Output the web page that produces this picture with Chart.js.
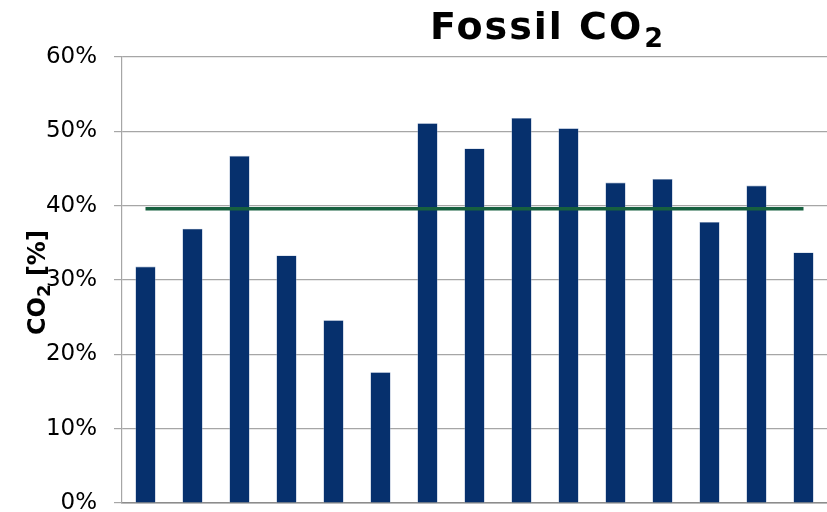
<!DOCTYPE html>
<html>
<head>
<meta charset="utf-8">
<script src="https://cdn.jsdelivr.net/npm/chart.js@4/dist/chart.umd.min.js"></script>
<style>
  html, body { margin: 0; padding: 0; background: #ffffff; }
  #wrap { width: 827px; height: 512px; position: relative; }
</style>
</head>
<body>
<div id="wrap"><canvas id="c" width="827" height="512"></canvas></div>
<script>
// Sites (not labelled on the axis)
const categories = ['1', '2', '3', '4', '5', '6', '7', '8', '9', '10', '11', '12', '13', '14', '15'];
// Fossil CO2 share per site, in percent
const fossilShare = [31.8, 36.9, 46.7, 33.3, 24.6, 17.6, 51.1, 47.7, 51.8, 50.4, 43.1, 43.6, 37.8, 42.7, 33.7];
// Mean level drawn as a horizontal line
const meanLevel = [39.6, 39.6, 39.6, 39.6, 39.6, 39.6, 39.6, 39.6, 39.6, 39.6, 39.6, 39.6, 39.6, 39.6, 39.6];
// Y axis tick values
const yTicks = [0, 10, 20, 30, 40, 50, 60];

const FONT = '"DejaVu Sans", Verdana, sans-serif';

// Title and axis title with subscripts, drawn on the canvas
const textPlugin = {
  id: 'subscriptTexts',
  afterDraw(chart) {
    const ctx = chart.ctx;
    ctx.save();
    ctx.fillStyle = '#000000';
    ctx.textBaseline = 'alphabetic';
    ctx.textAlign = 'left';
    // Title
    ctx.letterSpacing = '2px';
    ctx.font = 'bold 38px ' + FONT;
    const main = 'Fossil CO';
    ctx.fillText(main, 430, 39);
    const w = ctx.measureText(main).width;
    ctx.letterSpacing = '0px';
    ctx.font = 'bold 27px ' + FONT;
    ctx.fillText('2', 430 + w + 1, 47);
    // Y axis title, rotated
    ctx.translate(45, 335);
    ctx.rotate(-Math.PI / 2);
    ctx.font = 'bold 24px ' + FONT;
    ctx.fillText('CO', 0, 0);
    let x = ctx.measureText('CO').width;
    ctx.font = 'bold 18px ' + FONT;
    ctx.fillText('2', x, 5);
    x += ctx.measureText('2').width;
    ctx.font = 'bold 24px ' + FONT;
    ctx.fillText(' [%]', x, 0);
    ctx.restore();
  }
};

new Chart(document.getElementById('c'), {
  data: {
    labels: categories,
    datasets: [
      {
        type: 'line',
        data: meanLevel,
        borderColor: '#17603f',
        borderWidth: 3.5,
        pointRadius: 0,
        fill: false,
        order: 0
      },
      {
        type: 'bar',
        data: fossilShare,
        backgroundColor: '#06306d',
        borderColor: '#8fa3c4',
        borderWidth: 0.6,
        categoryPercentage: 1,
        barPercentage: 0.43,
        order: 1
      }
    ]
  },
  options: {
    responsive: false,
    animation: false,
    devicePixelRatio: 1,
    layout: { padding: { top: 57, right: 0, bottom: 0, left: 0 } },
    plugins: {
      legend: { display: false },
      title: { display: false },
      tooltip: { enabled: false }
    },
    scales: {
      x: {
        grid: { display: false },
        border: { display: true, color: '#8c8c8c', width: 1.5 },
        ticks: { display: false },
        afterFit(scale) { scale.height = 9; }
      },
      y: {
        min: 0,
        max: 60,
        afterBuildTicks(scale) { scale.ticks = yTicks.map(v => ({ value: v })); },
        ticks: {
          padding: 17,
          color: '#000000',
          font: { family: FONT, size: 23 },
          callback: v => v + '%'
        },
        grid: { color: '#a6a6a6', lineWidth: 1.2, tickLength: 8 },
        border: { display: true, color: '#a6a6a6', width: 1.2 },
        afterFit(scale) {
          scale.width = 122;
          scale.paddingTop = 0;
          scale.paddingBottom = 0;
        }
      }
    }
  },
  plugins: [textPlugin]
});
</script>
</body>
</html>
